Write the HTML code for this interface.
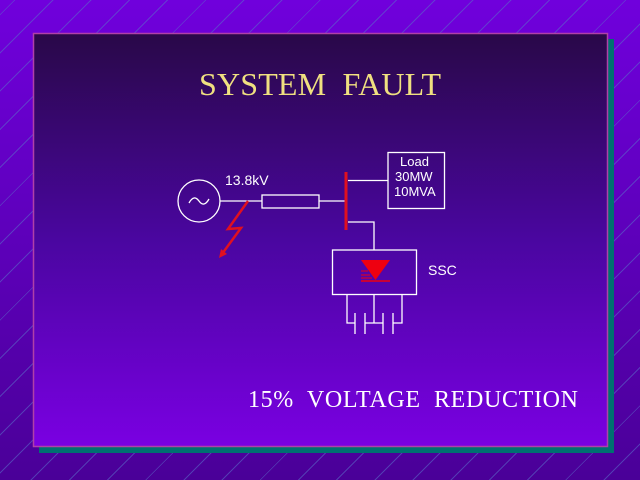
<!DOCTYPE html>
<html><head><style>
html,body{margin:0;padding:0;}
body{width:640px;height:480px;overflow:hidden;position:relative;
background:repeating-linear-gradient(-45deg,transparent 0 25px,rgba(90,110,200,0.55) 25px 26px,transparent 26px 27px),linear-gradient(#7000dc,#4a0098);}
</style></head><body>
<svg width="640" height="480" style="position:absolute;left:0;top:0">
<defs><linearGradient id="g" x1="0" y1="0" x2="0" y2="1">
<stop offset="0" stop-color="#290848"/><stop offset="0.5" stop-color="#4a06a0"/><stop offset="1" stop-color="#7a00e2"/></linearGradient></defs>
<rect x="39" y="39" width="575" height="414" fill="#007070"/>
<rect x="33.5" y="33.5" width="574" height="413" fill="url(#g)" stroke="#b040a8" stroke-width="1.5"/>
<text x="320" y="95" text-anchor="middle" font-family="Liberation Serif" font-size="32" fill="#f0e080" textLength="242" xml:space="preserve">SYSTEM  FAULT</text>
<text x="248" y="407" font-family="Liberation Serif" font-size="24" fill="#ffffff" textLength="330" xml:space="preserve">15%  VOLTAGE  REDUCTION</text>
<g stroke="#fff" stroke-width="1.3" fill="none">
<circle cx="199" cy="201" r="21"/>
<path d="M189 203 q5 -9 10 -2 t10 -2"/>
<path d="M220 201 H262 M319 201 H345"/>
<rect x="262" y="195" width="57" height="13"/>
<path d="M348 180.5 H388"/>
<rect x="388" y="152.5" width="56.5" height="56"/>
<path d="M348 222 H374 V250"/>
<rect x="332.5" y="250" width="84" height="44.5"/>
<path d="M347 294 V323 H355 M374 294 V323 M365 323 H383 M402 294 V323 H393 M355 313 V334 M365 313 V334 M383 313 V334 M393 313 V334"/>
</g>
<g font-family="Liberation Sans" font-size="13" fill="#fff">
<text x="225" y="185" font-size="14">13.8kV</text>
<text x="400" y="166">Load</text>
<text x="395" y="181">30MW</text>
<text x="394" y="196">10MVA</text>
<text x="428" y="275" font-size="14">SSC</text>
</g>
<line x1="346" y1="172" x2="346" y2="230" stroke="#e01020" stroke-width="3"/>
<polyline points="248,201 228,229 241,228 222,254" fill="none" stroke="#e01020" stroke-width="2.5"/>
<polygon points="219,258 221,249 227,254" fill="#e01020"/>
<polygon points="361,260 390,260 375.5,280" fill="#ee0010"/>
<line x1="361" y1="281" x2="390" y2="281" stroke="#ee0010" stroke-width="1.5"/>
<path d="M361 271 H368 M361 275 H370 M361 278 H372" stroke="#ee0010" stroke-width="1"/>
</svg>
</body></html>
